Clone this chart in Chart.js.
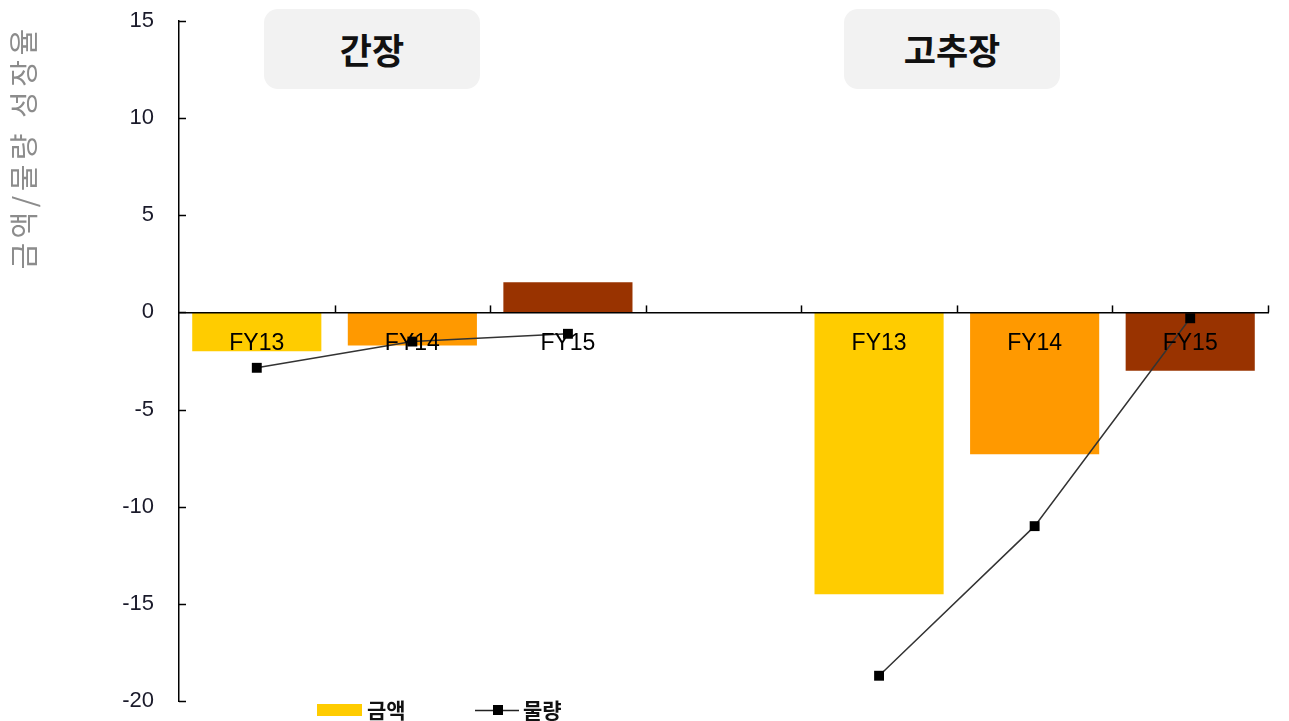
<!DOCTYPE html>
<html>
<head>
<meta charset="utf-8">
<script src="https://cdn.jsdelivr.net/npm/chart.js@4/dist/chart.umd.min.js"></script>
<style>
  html, body { margin: 0; padding: 0; background: #fff; }
  #wrap { position: relative; width: 1289px; height: 721px; }
  .tag {
    position: absolute; top: 9px; width: 216px; height: 80px;
    background: #f2f2f2; border-radius: 14px;
    font-family: "Noto Sans CJK KR", sans-serif; font-weight: bold;
    font-size: 35px; color: #111; line-height: 80px; text-align: center;
  }
</style>
</head>
<body>
<div id="wrap">
  <canvas id="chart" width="1289" height="721"></canvas>
  <div class="tag" style="left:264px">간장</div>
  <div class="tag" style="left:844px">고추장</div>
</div>
<script>
// 데이터
const categories = ['FY13', 'FY14', 'FY15', '', 'FY13', 'FY14', 'FY15'];
const amountGrowth = [-2.0, -1.7, 1.55, null, -14.5, -7.3, -3.0];   // 금액
const volumeGrowth = [-2.85, -1.5, -1.1, null, -18.7, -11.0, -0.3]; // 물량
const barColors = ['#FFCC00', '#FF9900', '#993300', '#FFFFFF', '#FFCC00', '#FF9900', '#993300'];
const yTitle = '금액/물량 성장율';

// 축 눈금, 축 제목, 범례
const extras = {
  id: 'extras',
  afterDraw(chart) {
    const ctx = chart.ctx;
    const x = chart.scales.x, y = chart.scales.y;
    const area = chart.chartArea;
    const zeroY = y.getPixelForValue(0);
    ctx.save();
    ctx.strokeStyle = '#000';
    ctx.lineWidth = 1.5;
    // y축 안쪽 눈금
    y.ticks.forEach(t => {
      const py = Math.round(y.getPixelForValue(t.value)) + 0.5;
      ctx.beginPath();
      ctx.moveTo(area.left, py);
      ctx.lineTo(area.left + 7, py);
      ctx.stroke();
    });
    // x축 위쪽 눈금 (카테고리 경계)
    const half = (x.getPixelForValue(1) - x.getPixelForValue(0)) / 2;
    for (let i = 0; i < categories.length; i++) {
      const px = Math.round(x.getPixelForValue(i) + half) + 0.5;
      ctx.beginPath();
      ctx.moveTo(px, zeroY);
      ctx.lineTo(px, zeroY - 7);
      ctx.stroke();
    }
    // y축 제목
    ctx.translate(24, 147);
    ctx.rotate(-Math.PI / 2);
    ctx.fillStyle = '#8c8c8c';
    ctx.font = '29px "Noto Sans CJK KR"';
    ctx.letterSpacing = '4.5px';
    ctx.textAlign = 'center';
    ctx.textBaseline = 'middle';
    ctx.fillText(yTitle, 0, 0);
    ctx.restore();

    // 범례
    ctx.save();
    ctx.fillStyle = '#FFCC00';
    ctx.fillRect(317, 704, 45, 12);
    ctx.font = 'bold 21px "Noto Sans CJK KR"';
    ctx.fillStyle = '#111';
    ctx.textBaseline = 'middle';
    ctx.fillText('금액', 367, 710);
    ctx.strokeStyle = '#222';
    ctx.lineWidth = 1.5;
    ctx.beginPath();
    ctx.moveTo(475, 710.5);
    ctx.lineTo(519, 710.5);
    ctx.stroke();
    ctx.fillStyle = '#000';
    ctx.fillRect(493, 705, 10, 10);
    ctx.fillStyle = '#111';
    ctx.fillText('물량', 523, 710);
    ctx.restore();
  }
};

const ctx = document.getElementById('chart').getContext('2d');
const chart = new Chart(ctx, {
  type: 'bar',
  data: {
    labels: categories,
    datasets: [
      {
        type: 'line',
        label: '물량',
        data: volumeGrowth,
        borderColor: '#333',
        borderWidth: 1.5,
        pointStyle: 'rect',
        pointRadius: 7,
        pointBackgroundColor: '#000',
        pointBorderColor: '#000',
        pointBorderWidth: 0,
        spanGaps: false,
        order: 0
      },
      {
        label: '금액',
        data: amountGrowth,
        backgroundColor: barColors,
        borderWidth: 0,
        barPercentage: 0.83,
        categoryPercentage: 1.0,
        order: 1
      }
    ]
  },
  options: {
    responsive: false,
    animation: false,
    events: [],
    layout: { padding: { top: 21, right: 21, bottom: 20, left: 0 } },
    plugins: {
      legend: { display: false },
      tooltip: { enabled: false }
    },
    scales: {
      x: {
        position: { y: 0 },
        grid: { display: false, drawTicks: false },
        border: { color: '#000', width: 1.5, z: 1 },
        ticks: {
          z: 1,
          padding: 17,
          color: '#000',
          font: { family: 'Liberation Sans', size: 23 }
        },
        afterFit(scale) { scale.height = 0; }
      },
      y: {
        min: -20,
        max: 15,
        grid: { display: false, drawTicks: false },
        border: { color: '#000', width: 1.5 },
        ticks: {
          stepSize: 5,
          padding: 25,
          color: '#1a1a2a',
          font: { family: 'Liberation Sans', size: 22 }
        },
        afterFit(scale) {
          scale.width = 179;
          scale.paddingTop = 0;
          scale.paddingBottom = 0;
        }
      }
    }
  },
  plugins: [extras]
});
</script>
</body>
</html>
